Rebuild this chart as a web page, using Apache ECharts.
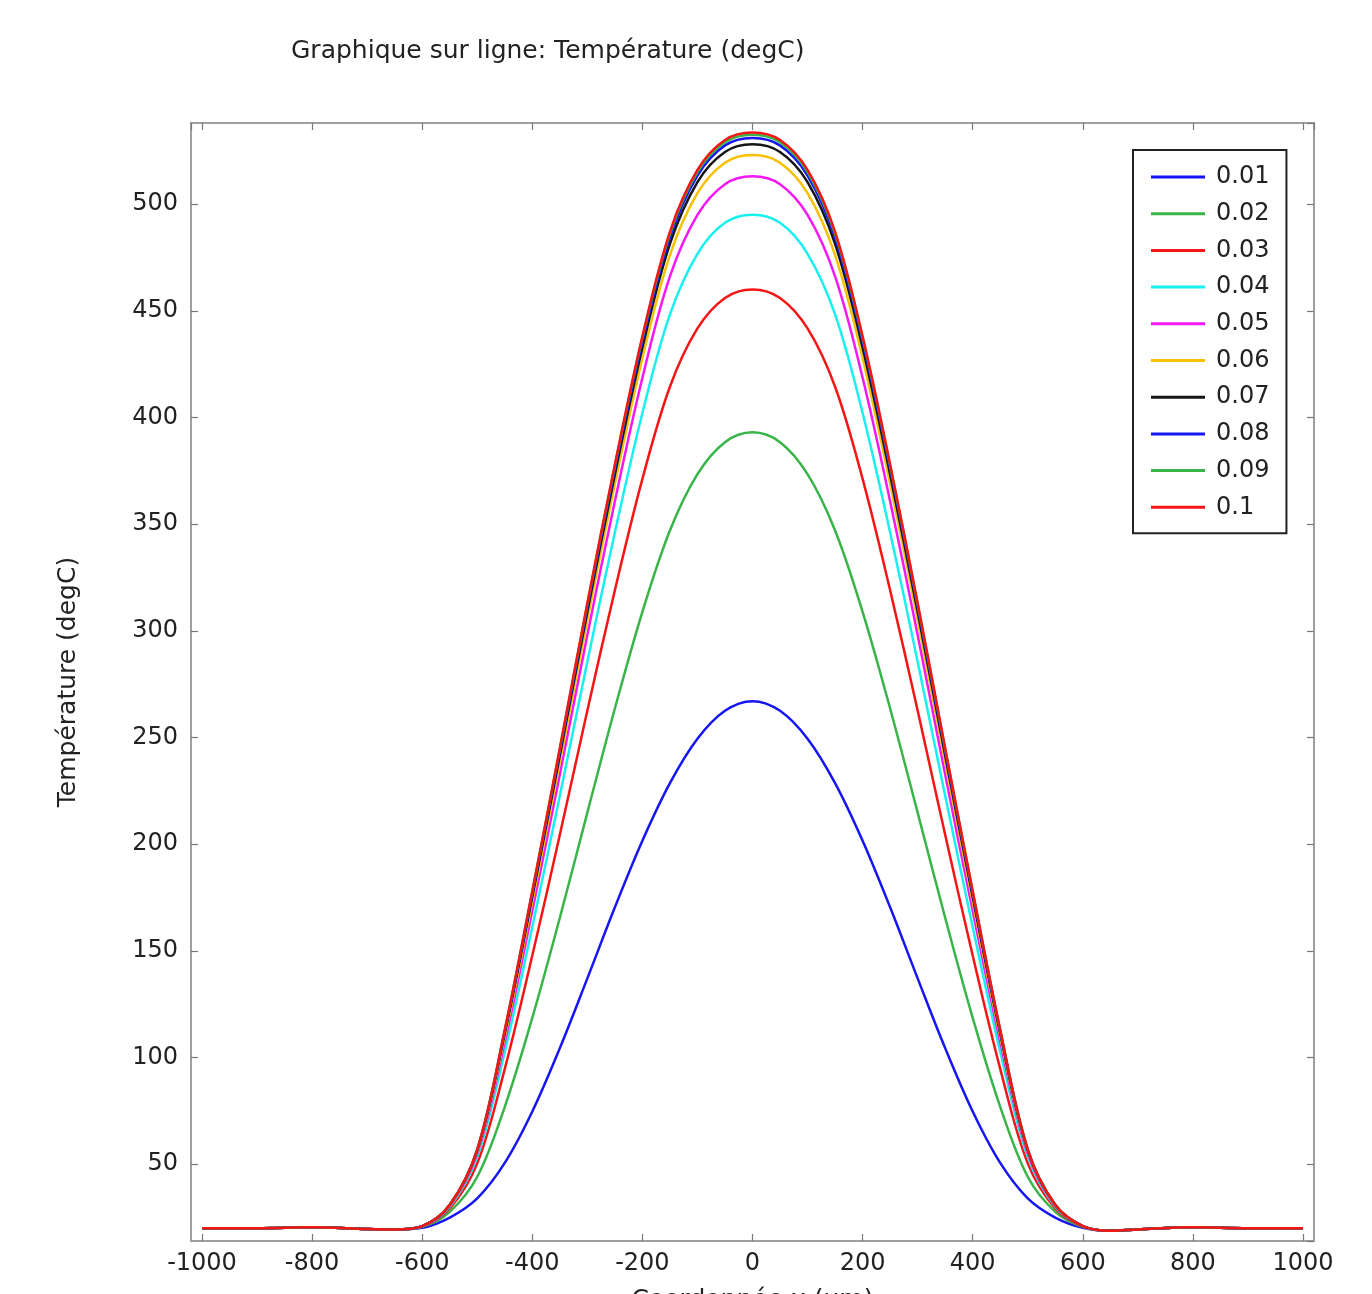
<!DOCTYPE html>
<html>
<head>
<meta charset="utf-8">
<title>Graphique sur ligne</title>
<script src="https://cdn.jsdelivr.net/npm/echarts@6/dist/echarts.min.js"></script>
<style>
  html, body { margin: 0; padding: 0; background: #fff; }
  #chart { width: 1372px; height: 1294px; }
</style>
</head>
<body>
<div id="chart"></div>
<script>
// coordonnée x (um)
var xs = [-1000, -900, -800, -700, -650,
  -600, -550, -500, -450, -400, -350, -300, -250, -200, -150, -100, -50,
  0,
  50, 100, 150, 200, 250, 300, 350, 400, 450, 500, 550, 600,
  650, 700, 800, 900, 1000];

// température (degC) pour chaque courbe
var t001 = [20, 20, 20.4, 19.6, 19.4, 20.2, 25, 34, 50.6, 74.7, 104.4, 137.1, 170.4, 201.6, 228.6, 249.4, 262.5,
  267, 262.5, 249.4, 228.6, 201.6, 170.4, 137.1, 104.4, 74.7, 50.6, 34, 25, 20.2, 18.8, 19.4, 20.4, 20, 20];
var t002 = [20, 20, 20.4, 19.6, 19.4, 20.6, 27.7, 44.1, 76.9, 118.6, 165.5, 214.8, 263.6, 308.9, 347, 373.4, 388.4,
  393, 388.4, 373.4, 347, 308.9, 263.6, 214.8, 165.5, 118.6, 76.9, 44.1, 27.7, 20.6, 18.8, 19.4, 20.4, 20, 20];
var t003 = [20, 20, 20.4, 19.6, 19.4, 20.8, 29.3, 50.4, 94.7, 147.8, 204.4, 262.6, 319, 371.2, 414.4, 441.7, 456,
  460, 456, 441.7, 414.4, 371.2, 319, 262.6, 204.4, 147.8, 94.7, 50.4, 29.3, 20.8, 18.8, 19.4, 20.4, 20, 20];
var t004 = [20, 20, 20.4, 19.6, 19.4, 20.9, 30.1, 53.4, 102.7, 161.2, 222.7, 285.5, 346.1, 402.1, 448.3, 476.7, 491.2,
  495, 491.2, 476.7, 448.3, 402.1, 346.1, 285.5, 222.7, 161.2, 102.7, 53.4, 30.1, 20.9, 18.8, 19.4, 20.4, 20, 20];
var t005 = [20, 20, 20.4, 19.6, 19.4, 20.9, 30.5, 55, 107.3, 168.7, 232.7, 298, 360.7, 418.6, 466.1, 494.9, 509.3,
  513, 509.3, 494.9, 466.1, 418.6, 360.7, 298, 232.7, 168.7, 107.3, 55, 30.5, 20.9, 18.8, 19.4, 20.4, 20, 20];
var t006 = [20, 20, 20.4, 19.6, 19.4, 21, 30.7, 56, 109.9, 173, 238.5, 305.1, 368.9, 427.8, 476.1, 505.1, 519.4,
  523, 519.4, 505.1, 476.1, 427.8, 368.9, 305.1, 238.5, 173, 109.9, 56, 30.7, 21, 18.8, 19.4, 20.4, 20, 20];
var t007 = [20, 20, 20.4, 19.6, 19.4, 21, 30.9, 56.5, 111.4, 175.4, 241.6, 308.9, 373.3, 432.7, 481.3, 510.3, 524.4,
  528, 524.4, 510.3, 481.3, 432.7, 373.3, 308.9, 241.6, 175.4, 111.4, 56.5, 30.9, 21, 18.8, 19.4, 20.4, 20, 20];
var t008 = [20, 20, 20.4, 19.6, 19.4, 21, 30.9, 56.7, 112.2, 176.8, 243.4, 311.1, 375.8, 435.5, 484.3, 513.4, 527.5,
  531, 527.5, 513.4, 484.3, 435.5, 375.8, 311.1, 243.4, 176.8, 112.2, 56.7, 30.9, 21, 18.8, 19.4, 20.4, 20, 20];
var t009 = [20, 20, 20.4, 19.6, 19.4, 21, 31, 57, 112.8, 177.7, 244.6, 312.4, 377.3, 437.2, 486.1, 515, 529,
  532.5, 529, 515, 486.1, 437.2, 377.3, 312.4, 244.6, 177.7, 112.8, 57, 31, 21, 18.8, 19.4, 20.4, 20, 20];
var t010 = [20, 20, 20.4, 19.6, 19.4, 21, 31, 57, 113, 178, 245, 313, 378, 438, 487, 516, 530,
  533.5, 530, 516, 487, 438, 378, 313, 245, 178, 113, 57, 31, 21, 18.8, 19.4, 20.4, 20, 20];

var names = ['0.01', '0.02', '0.03', '0.04', '0.05', '0.06', '0.07', '0.08', '0.09', '0.1'];
var temps = [t001, t002, t003, t004, t005, t006, t007, t008, t009, t010];
var colors = ['#1515f5', '#38b448', '#f51515', '#18f0f0', '#f518f5', '#f8c000', '#151515', '#1515f5', '#38b448', '#f51515'];

var font = 'DejaVu Sans';

var chart = echarts.init(document.getElementById('chart'));

var series = [];
for (var i = 0; i < names.length; i++) {
  var pts = [];
  for (var j = 0; j < xs.length; j++) {
    pts.push([xs[j], temps[i][j]]);
  }
  series.push({
    name: names[i],
    type: 'line',
    data: pts,
    showSymbol: false,
    smooth: 0.35,
    clip: true,
    lineStyle: { width: 2.5, color: colors[i] },
    itemStyle: { color: colors[i] }
  });
}

var tickStyle = { show: true, inside: true, length: 7, lineStyle: { color: '#777', width: 1.2 } };
var lineStyle = { show: true, onZero: false, lineStyle: { color: '#999', width: 1.5 } };
var plain = function (v) { return String(v); };

var option = {
  animation: false,
  backgroundColor: '#fff',
  title: {
    text: 'Graphique sur ligne: Température (degC)',
    left: 291,
    top: 39,
    padding: 0,
    textStyle: { fontFamily: font, fontSize: 25, fontWeight: 'normal', color: '#222' }
  },
  legend: {
    orient: 'vertical',
    left: 1133,
    top: 150,
    padding: [15, 17, 14, 18],
    itemGap: 12.7,
    itemWidth: 54,
    itemHeight: 3,
    icon: 'rect',
    borderColor: '#222',
    borderWidth: 2,
    backgroundColor: '#fff',
    data: names,
    textStyle: { fontFamily: font, fontSize: 24, color: '#222', padding: [0, 0, 0, 6] }
  },
  grid: {
    left: 191,
    top: 123,
    right: 58,
    bottom: 53,
    outerBoundsMode: 'none',
    show: true,
    borderColor: '#999',
    borderWidth: 1.5,
    backgroundColor: '#fff'
  },
  xAxis: [{
    type: 'value',
    min: -1020,
    max: 1020,
    minInterval: 200,
    maxInterval: 200,
    name: 'Coordonnée x (um)',
    nameLocation: 'middle',
    nameGap: 47,
    nameTextStyle: { fontFamily: font, fontSize: 25, color: '#222' },
    axisLine: lineStyle,
    axisTick: tickStyle,
    splitLine: { show: false },
    axisLabel: { fontFamily: font, fontSize: 24, color: '#222', margin: 11, formatter: plain, showMinLabel: false, showMaxLabel: false }
  }, {
    type: 'value',
    position: 'top',
    min: -1020,
    max: 1020,
    minInterval: 200,
    maxInterval: 200,
    axisLine: lineStyle,
    axisTick: tickStyle,
    splitLine: { show: false },
    axisLabel: { show: false }
  }],
  yAxis: [{
    type: 'value',
    min: 14,
    max: 538,
    minInterval: 50,
    maxInterval: 50,
    name: 'Température (degC)',
    nameLocation: 'middle',
    nameGap: 110,
    nameTextStyle: { fontFamily: font, fontSize: 25, color: '#222' },
    axisLine: lineStyle,
    axisTick: tickStyle,
    splitLine: { show: false },
    axisLabel: { fontFamily: font, fontSize: 24, color: '#222', margin: 13, formatter: plain, showMinLabel: false, showMaxLabel: false }
  }, {
    type: 'value',
    position: 'right',
    min: 14,
    max: 538,
    minInterval: 50,
    maxInterval: 50,
    axisLine: lineStyle,
    axisTick: tickStyle,
    splitLine: { show: false },
    axisLabel: { show: false }
  }],
  series: series
};

chart.setOption(option);
</script>
</body>
</html>
